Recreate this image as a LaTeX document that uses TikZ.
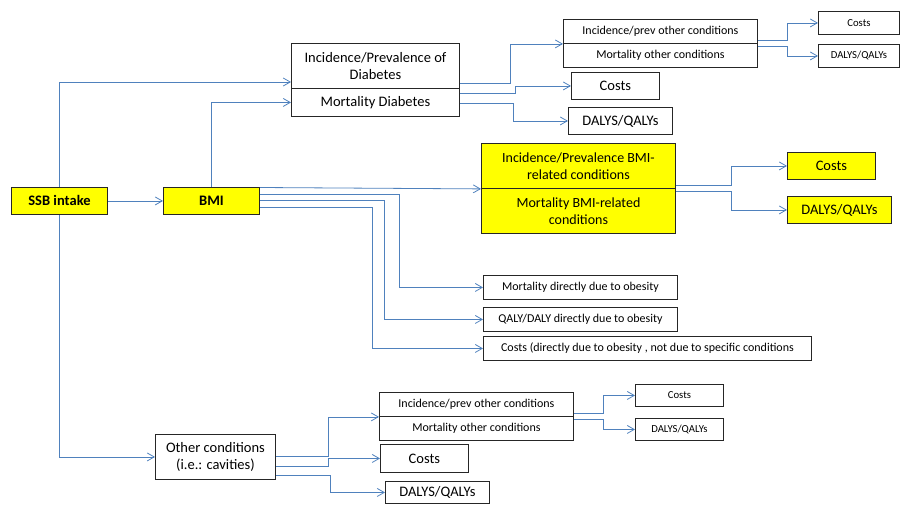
\documentclass[tikz,border=0pt]{standalone}
\usepackage{fontspec}
\setmainfont{Carlito}
\usetikzlibrary{arrows.meta}
\definecolor{lineblue}{RGB}{79,129,189}
\definecolor{boxyellow}{RGB}{255,255,0}
\newcommand\mybox[7]{\node[#6, minimum width={(#4-#2)*1pt}, minimum height={(#5-#3)*1pt}, anchor=north west] (#1) at (#2,#3) {#7};}
\begin{document}
\begin{tikzpicture}[x=1pt,y=-1pt,
  bx/.style={draw=black!85, line width=0.9pt, inner sep=0pt, align=center},
  ybx/.style={bx, fill=boxyellow},
  fm/.style={font=\fontsize{14.5}{17.5}\selectfont},
  fy/.style={font=\fontsize{14}{16.8}\selectfont},
  fs/.style={font=\fontsize{12}{14}\selectfont},
  fxs/.style={font=\fontsize{10.7}{13}\selectfont},
  fb/.style={font=\fontsize{14.5}{17.5}\selectfont\bfseries},
  conn/.style={draw=lineblue, line width=0.8pt, -{Straight Barb[length=7pt,width=8pt]}}]
\useasboundingbox (0,0) rectangle (900,504);
% boxes
\mybox{ssb}{11}{187}{107}{214}{ybx,fb}{SSB intake}
\mybox{bmi}{163}{187}{259}{214}{ybx,fb}{BMI}
\mybox{diabI}{291}{43}{459}{88}{bx,fm}{Incidence/Prevalence of\\Diabetes}
\mybox{diabM}{291}{88}{459}{116}{bx,fm}{Mortality Diabetes}
\mybox{toI}{563}{19}{757}{43}{bx,fs}{Incidence/prev other conditions}
\mybox{toM}{563}{43}{757}{67}{bx,fs}{Mortality other conditions}
\mybox{tc1}{571}{72}{659}{99}{bx,fm}{Costs}
\mybox{td1}{568}{107}{672}{134}{bx,fm}{DALYS/QALYs}
\mybox{trc}{818}{11}{899}{34}{bx,fxs}{Costs}
\mybox{trd}{818}{44}{899}{67}{bx,fxs}{DALYS/QALYs}
\mybox{yI}{481}{143}{675}{188}{ybx,fy}{Incidence/Prevalence BMI-\\related conditions}
\mybox{yM}{481}{188}{675}{233}{ybx,fy}{Mortality BMI-related\\conditions}
\mybox{yc}{787}{152}{875}{179}{ybx,fm}{Costs}
\mybox{yd}{787}{196}{891}{223}{ybx,fm}{DALYS/QALYs}
\mybox{md}{483}{275}{677}{299}{bx,fs}{Mortality directly due to obesity}
\mybox{qd}{483}{307}{677}{331}{bx,fs}{QALY/DALY directly due to obesity}
\mybox{cd}{483}{336}{811}{360}{bx,fs}{Costs (directly due to obesity , not due to specific conditions}
\mybox{oc}{155}{434}{275}{479}{bx,fm}{Other conditions\\(i.e.: cavities)}
\mybox{boI}{379}{392}{573}{416}{bx,fs}{Incidence/prev other conditions}
\mybox{boM}{379}{416}{573}{440}{bx,fs}{Mortality other conditions}
\mybox{bc1}{380}{444}{468}{472}{bx,fm}{Costs}
\mybox{bd1}{385}{481}{489}{503}{bx,fm}{DALYS/QALYs}
\mybox{brc}{635}{384}{723}{406}{bx,fxs}{Costs}
\mybox{brd}{635}{418}{723}{440}{bx,fxs}{DALYS/QALYs}
% connectors
\draw[conn] (ssb.north) |- (diabI.west |- 0,82);
\draw[conn] (bmi.north) |- (diabM.west);
\draw[conn] (ssb.east) -- (bmi.west);
\draw[conn] (ssb.south) |- (oc.west);
\draw[conn] (diabI.east |- 0,83) -- (510,83) |- (toI.south west);
\draw[conn] (diabM.east |- 0,93) -- (515,93) |- (tc1.west);
\draw[conn] (diabM.east |- 0,103) -- (513,103) |- (td1.west);
\draw[conn] (toI.east |- 0,40) -- (787,40) |- (trc.west);
\draw[conn] (toM.east |- 0,46) -- (787,46) |- (trd.west);
\draw[conn] (bmi.east |- 0,187.5) -- (yI.south west);
\draw[conn] (bmi.east |- 0,194) -- (399,194) |- (md.west);
\draw[conn] (bmi.east |- 0,200) -- (384,200) |- (qd.west);
\draw[conn] (bmi.east |- 0,207) -- (372,207) |- (cd.west);
\draw[conn] (yI.east |- 0,185) -- (731,185) |- (yc.west);
\draw[conn] (yM.east |- 0,191) -- (731,191) |- (yd.west);
\draw[conn] (oc.east |- 0,456) -- (328,456) |- (boI.south west);
\draw[conn] (oc.east |- 0,466) -- (328,466) |- (bc1.west);
\draw[conn] (oc.east |- 0,475) -- (330,475) |- (bd1.west);
\draw[conn] (boI.east |- 0,413) -- (603,413) |- (brc.west);
\draw[conn] (boM.east |- 0,419) -- (603,419) |- (brd.west);
\end{tikzpicture}
\end{document}
